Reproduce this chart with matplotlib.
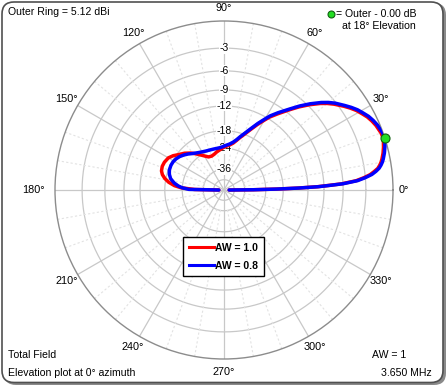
import numpy as np
import matplotlib
matplotlib.use('Agg')
import matplotlib.pyplot as plt
from matplotlib.patches import FancyBboxPatch
from matplotlib.lines import Line2D

plt.rcParams['font.family'] = 'Liberation Sans'

# elevation angle (deg) and gain (dB relative to outer ring)
elev_08 = [0, 0.5, 1, 1.5, 2, 2.5, 3, 4, 5, 6, 7, 8, 9, 10, 11, 13, 15, 18, 20, 23, 25, 27, 29,
           31, 33, 35, 38, 40, 42, 45, 48, 51, 55, 58, 60, 63, 66.6, 70, 73, 76, 79, 83, 88, 92,
           96, 100, 104, 110, 115, 120, 125, 131, 135, 139, 143, 147, 151, 155, 160, 164, 168,
           172, 175, 177, 179, 180]
gain_08 = [-60, -30, -20, -14, -10, -8, -6, -4, -3.0, -2.2, -1.7, -1.3, -1.05, -0.85, -0.7,
           -0.45, -0.25, 0, -0.05, -0.25, -0.45, -0.7, -1.05, -1.4, -1.85, -2.35, -3.1, -3.7,
           -4.4, -5.6, -6.9, -8.3, -10.0, -11.3, -12.4, -14.0, -16.0, -17.7, -19.0, -20.3, -21.3,
           -22.2, -22.9, -23.4, -23.7, -23.8, -23.8, -23.7, -23.5, -23.1, -22.5, -21.5, -20.6,
           -19.8, -19.1, -18.6, -18.3, -18.2, -18.3, -18.7, -19.4, -20.8, -22.4, -24.0, -27, -60]

elev_10 = [0, 0.5, 1, 1.5, 2, 2.5, 3, 4, 5, 6, 7, 8, 9, 10, 11, 13, 15, 18, 20, 23, 25, 27, 29,
           31, 33, 35, 38, 40, 42, 45, 48, 51, 55, 58, 60, 63, 66.6, 70, 73, 76, 79, 83, 88, 92,
           96, 101, 105, 110, 115, 120, 125, 129, 132, 137, 142, 146, 150, 155, 159, 163, 166,
           169, 172, 175, 177, 179, 180]
gain_10 = [-60, -30, -20, -14.2, -10.2, -8.2, -6.2, -4.2, -3.2, -2.4, -1.9, -1.45, -1.2, -1.0,
           -0.85, -0.6, -0.4, -0.15, -0.2, -0.4, -0.6, -0.85, -1.2, -1.55, -2.0, -2.5, -3.3,
           -3.9, -4.6, -5.8, -7.1, -8.5, -10.3, -11.6, -12.7, -14.3, -16.3, -18.0, -19.3, -20.6,
           -21.7, -22.6, -23.3, -23.9, -24.6, -25.3, -26.0, -26.5, -26.3, -25.0, -23.4, -22.0,
           -21.0, -19.6, -18.5, -17.4, -16.6, -16.2, -16.1, -16.3, -16.8, -17.7, -19.0, -21.0,
           -23.5, -30, -60]

ring_db = [-3, -6, -9, -12, -18, -24, -36]
angle_labels = [0, 30, 60, 90, 120, 150, 180, 210, 240, 270, 300, 330]


def arrl(db):
    return 0.89 ** (-np.asarray(db, dtype=float) / 2)


W, H = 448, 386
fig = plt.figure(figsize=(W / 100, H / 100), dpi=100)

shadow = FancyBboxPatch((0.04, 0.01), 4.42, 3.82, boxstyle='round,pad=0,rounding_size=0.12',
                        transform=fig.dpi_scale_trans, fc='#8a8a8a', ec='none', zorder=-2)
frame = FancyBboxPatch((0.02, 0.035), 4.41, 3.805, boxstyle='round,pad=0,rounding_size=0.12',
                       transform=fig.dpi_scale_trans, fc='white', ec='#505050', lw=1.2, zorder=-1)
fig.patches.extend([shadow, frame])

cx, cy, R = 224, 190, 169
ax = fig.add_axes([(cx - R) / W, (H - cy - R) / H, 2 * R / W, 2 * R / H], projection='polar')
ax.patch.set_alpha(0)
ax.set_ylim(0, 1)
ax.set_xticks([])
ax.set_yticks([])
ax.grid(False)
ax.spines['polar'].set_color('#8c8c8c')
ax.spines['polar'].set_linewidth(1.0)

t = np.linspace(0, 2 * np.pi, 721)
for d in ring_db + [-48]:
    ax.plot(t, np.full_like(t, arrl(d)), color='#c8c8c8', lw=0.9, zorder=1)
for a in range(0, 360, 10):
    th = np.radians(a)
    if a % 30 == 0:
        ax.plot([th, th], [0, 1], color='#c8c8c8', lw=0.9, zorder=1)
    else:
        ax.plot([th, th], [0.12, 1], color='#e2e2e2', lw=0.8, ls=(0, (2, 2)), zorder=1)

for d in ring_db:
    ax.text(np.pi / 2, arrl(d), str(d), ha='center', va='center', fontsize=7.5, zorder=3,
            bbox=dict(fc='white', ec='none', pad=0.3))

for a in angle_labels:
    th = np.radians(a)
    lab = f'{a}°'
    if a == 0:
        ax.text(th, 1.035, lab, ha='left', va='center', fontsize=7.8)
    elif a == 180:
        ax.text(th, 1.06, lab, ha='right', va='center', fontsize=7.8)
    else:
        ax.text(th, 1.075, lab, ha='center', va='center', fontsize=7.8)

ax.plot(np.radians(elev_10), arrl(gain_10), color='#ff0000', lw=2.5, zorder=4,
        solid_joinstyle='round', solid_capstyle='round')
ax.plot(np.radians(elev_08), arrl(gain_08), color='#0000ff', lw=2.5, zorder=5,
        solid_joinstyle='round', solid_capstyle='round')
ax.plot([np.radians(18)], [1.0], 'o', ms=6.5, mfc='#22dd22', mec='#106010', mew=0.8, zorder=6,
        clip_on=False)

handles = [Line2D([], [], color='#ff0000', lw=2.2), Line2D([], [], color='#0000ff', lw=2.2)]
leg = fig.legend(handles, ['AW = 1.0', 'AW = 0.8'], loc='upper left',
                 bbox_to_anchor=(183 / W, 1 - 237 / H), frameon=True, fancybox=False,
                 edgecolor='black', framealpha=1, prop={'weight': 'bold', 'size': 7.5},
                 handlelength=2.4, handletextpad=0.15, borderpad=0.55, labelspacing=0.75,
                 borderaxespad=0)
leg.get_frame().set_linewidth(1.0)

fs = 7.6
fig.text(8 / W, 1 - 12 / H, 'Outer Ring = 5.12 dBi', fontsize=fs, va='center')
fig.text(336 / W, 1 - 14 / H, '= Outer - 0.00 dB', fontsize=fs, va='center')
fig.text(342 / W, 1 - 26 / H, 'at 18° Elevation', fontsize=fs, va='center')
fig.lines.append(Line2D([331 / W], [1 - 14 / H], marker='o', ms=5, mfc='#22dd22', mec='#106010',
                        mew=0.8, transform=fig.transFigure))
fig.text(8 / W, 1 - 355 / H, 'Total Field', fontsize=fs, va='center')
fig.text(8 / W, 1 - 373 / H, 'Elevation plot at 0° azimuth', fontsize=fs, va='center')
fig.text(372 / W, 1 - 355 / H, 'AW = 1', fontsize=fs, va='center')
fig.text(381 / W, 1 - 373 / H, '3.650 MHz', fontsize=fs, va='center')

fig.savefig('out.png', dpi=100)
